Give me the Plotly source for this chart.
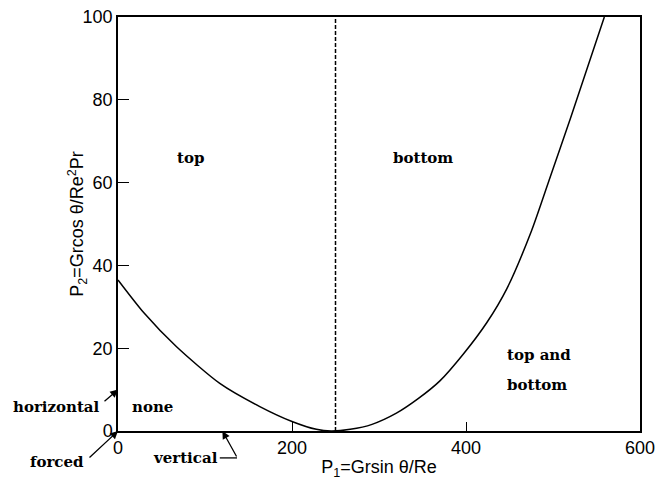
import plotly.graph_objects as go

# Boundary curve
x_left = [0, 30, 67, 117, 163, 200, 228, 245]
y_left = [36.5, 28.5, 20.4, 11.5, 5.9, 2.3, 0.4, 0]
x_right = [245, 267, 292, 320, 345, 370, 397, 424, 447, 475, 497, 520, 559]
y_right = [0, 0.4, 1.6, 4.3, 7.8, 12.1, 18.6, 26.2, 34.4, 48.2, 61.5, 75.5, 100]
x_divide = 250

x_ticks = [0, 200, 400, 600]
y_ticks = [0, 20, 40, 60, 80, 100]

label_font = dict(family="DejaVu Serif", size=15, color="black")
tick_font = dict(family="Liberation Sans", size=18, color="black")

fig = go.Figure()
fig.add_trace(go.Scatter(x=x_left + x_right[1:], y=y_left + y_right[1:], mode="lines",
                         line=dict(color="black", width=1.5, shape="spline", smoothing=0.7),
                         showlegend=False, hoverinfo="skip"))

fig.add_shape(type="line", x0=x_divide, x1=x_divide, y0=0, y1=100, xref="x", yref="y",
              line=dict(color="black", width=1.5, dash="4px,2px"))

def lab(text, x, y, xref="x", yref="y", xanchor="center"):
    fig.add_annotation(text="<b>" + text + "</b>", x=x, y=y, xref=xref, yref=yref,
                       showarrow=False, font=label_font, xanchor=xanchor, yanchor="middle")

lab("top", 83, 66)
lab("bottom", 351, 66)
lab("top and", 445, 18.4, xanchor="left")
lab("bottom", 445, 11.1, xanchor="left")
lab("none", 40, 5.8)
lab("horizontal", -0.117, 0.058, "paper", "paper")
lab("forced", -0.117, -0.075, "paper", "paper")
lab("vertical", 0.13, -0.065, "paper", "paper")

def arrow(x, y, ax, ay):
    fig.add_annotation(text="", x=x, y=y, xref="x", yref="y", ax=ax, ay=ay,
                       showarrow=True, arrowhead=2, arrowsize=1.2, arrowwidth=1.3,
                       arrowcolor="black")

arrow(0, 10, -15, 13)
arrow(0, 0, -30, 28)
arrow(120, 0, 15, 27)
fig.add_shape(type="line", xref="paper", yref="paper", x0=0.195, x1=0.228, y0=-0.065, y1=-0.065,
              line=dict(color="black", width=1.3))

fig.add_annotation(text="P<sub>2</sub>=Grcos θ/Re<sup>2</sup>Pr", x=-0.079, y=0.5,
                   xref="paper", yref="paper", showarrow=False, textangle=-90,
                   xanchor="center", yanchor="middle",
                   font=dict(family="Liberation Sans", size=18, color="black"))

fig.update_xaxes(range=[0, 600], tickvals=x_ticks, ticks="inside", ticklen=9, tickwidth=1.3,
                 tickcolor="black", showline=True, linecolor="black", linewidth=1.5, mirror=True,
                 showgrid=False, zeroline=False, tickfont=tick_font, automargin=False,
                 title=dict(text="P<sub>1</sub>=Grsin θ/Re", standoff=12,
                            font=dict(family="Liberation Sans", size=18, color="black")))
fig.update_yaxes(range=[0, 100], tickvals=y_ticks, ticks="inside", ticklen=11, tickwidth=1.3,
                 tickcolor="black", showline=True, automargin=False,
                 linecolor="black", linewidth=1.5, mirror=True,
                 showgrid=False, zeroline=False, tickfont=tick_font)

fig.update_layout(width=657, height=480, margin=dict(l=118, r=17, t=17, b=49),
                  plot_bgcolor="white", paper_bgcolor="white",
                  font=dict(family="Liberation Sans", color="black"))

fig.write_html("out.html")
